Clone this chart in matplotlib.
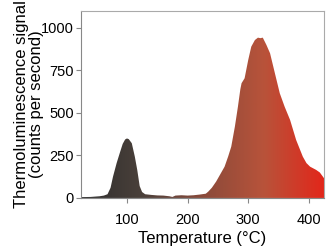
import numpy as np
import matplotlib.pyplot as plt
from matplotlib.colors import LinearSegmentedColormap

plt.rcParams['font.family'] = ['Liberation Sans', 'DejaVu Sans']

# Glow curve
temperature = [25, 40, 55, 62, 68, 73, 77, 83, 88.5, 93, 97, 100, 103, 108,
               113, 117, 121, 125, 130, 140, 150, 160, 170, 175, 180, 190,
               200, 210, 220, 230, 234, 240, 247, 254, 261, 267, 272, 278,
               283, 287, 289, 294, 300, 305, 311, 316, 320, 324, 330, 336,
               344, 352, 360, 369, 379, 390, 396, 402, 412, 418, 425]
counts = [5, 6, 10, 14, 22, 60, 125, 205, 268, 318, 344, 350, 346, 322,
          243, 165, 70, 35, 22, 18, 15, 14, 10, 6, 14, 16,
          14, 16, 20, 25, 37, 60, 96, 140, 184, 245, 302, 420,
          537, 640, 675, 704, 812, 890, 929, 943, 940, 943, 900, 851,
          733, 616, 537, 459, 341, 243, 205, 184, 165, 150, 116]

x_ticks = [100, 200, 300, 400]
y_ticks = [0, 250, 500, 750, 1000]

fig = plt.figure(figsize=(3.26, 2.49), dpi=100)
ax = fig.add_axes([0.248, 0.205, 0.746, 0.751])

xmin, xmax = 24, 425
ymax = 1100

# gradient fill clipped to the curve
cmap = LinearSegmentedColormap.from_list(
    'glow', ['#2e2e2e', '#4a403a', '#8a4a3a', '#b8533a', '#e3261a'])
grad = np.linspace(0, 1, 256).reshape(1, -1)
poly = ax.fill_between(temperature, 0, counts, facecolor='none', edgecolor='none')
img = ax.imshow(grad, cmap=cmap, aspect='auto', extent=[xmin, xmax, 0, ymax],
                origin='lower', zorder=1)
img.set_clip_path(poly.get_paths()[0], transform=ax.transData)

ax.set_xlim(xmin, xmax)
ax.set_ylim(0, ymax)
ax.set_xticks(x_ticks)
ax.set_yticks(y_ticks)
ax.tick_params(direction='out', length=3.5, width=0.8, colors='#888888',
               labelcolor='black', labelsize=10.5)
ax.tick_params(axis='x', pad=7)
ax.tick_params(axis='y', pad=1.5)

for side in ['top', 'right']:
    ax.spines[side].set_color('#aaaaaa')
for side in ['left', 'bottom']:
    ax.spines[side].set_color('#888888')

ax.set_xlabel('Temperature (°C)', fontsize=12, labelpad=3)
ax.set_ylabel('Thermoluminescence signal\n(counts per second)', fontsize=12,
              labelpad=-2, linespacing=1.0)

fig.savefig('out.png', dpi=100)
